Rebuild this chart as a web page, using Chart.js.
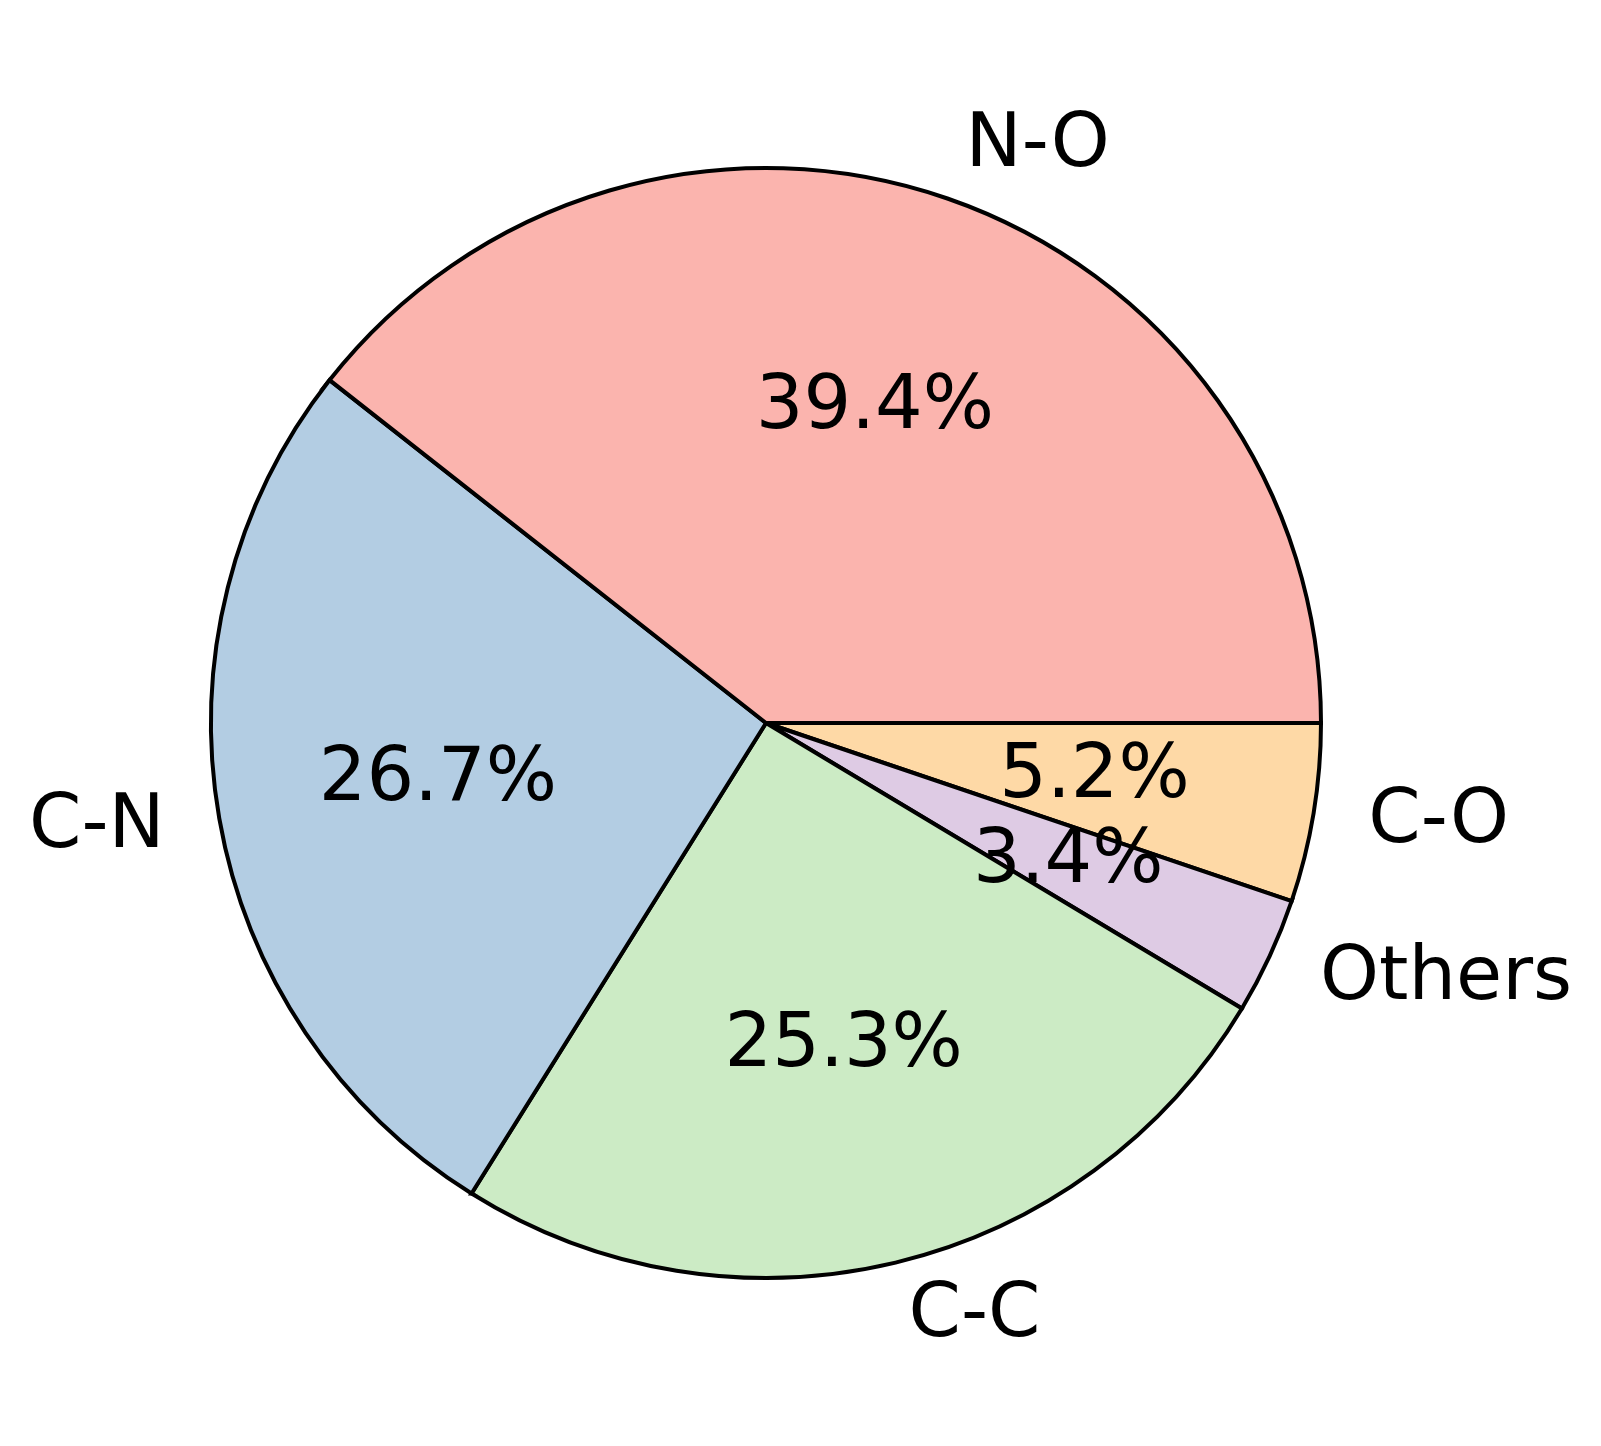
<!DOCTYPE html>
<html>
<head>
<meta charset="utf-8">
<script src="https://cdn.jsdelivr.net/npm/chart.js@4/dist/chart.umd.min.js"></script>
<style>
  html, body { margin: 0; padding: 0; background: #fff; }
  canvas { display: block; }
</style>
</head>
<body>
<canvas id="pieChart" width="1601" height="1446"></canvas>
<script>
// slices in the order they go round the pie (counter-clockwise from 3 o'clock)
const categories = ['N-O', 'C-N', 'C-C', 'Others', 'C-O'];
const shares = [39.4, 26.7, 25.3, 3.4, 5.2];
const colors = ['#fbb4ae', '#b3cde3', '#ccebc5', '#decbe4', '#fed9a6'];

// chart.js goes clockwise, so reverse everything
const labels = categories.slice().reverse();
const values = shares.slice().reverse();
const bg = colors.slice().reverse();
const total = values.reduce((a, b) => a + b, 0);

const FONT = '75px "DejaVu Sans"';

// draws the outer labels and the percent texts like matplotlib does
const pieText = {
  id: 'pieText',
  afterDatasetsDraw(chart) {
    const ctx = chart.ctx;
    const meta = chart.getDatasetMeta(0);
    ctx.save();
    ctx.font = FONT;
    ctx.fillStyle = '#000';
    meta.data.forEach((arc, i) => {
      const p = arc.getProps(['x', 'y', 'startAngle', 'endAngle', 'outerRadius'], true);
      const mid = (p.startAngle + p.endAngle) / 2;
      const cx = Math.cos(mid), cy = Math.sin(mid);

      // category label at 1.1 r
      const lx = p.x + cx * p.outerRadius * 1.1;
      const ly = p.y + cy * p.outerRadius * 1.1;
      ctx.textAlign = cx > 0 ? 'left' : 'right';
      ctx.textBaseline = 'middle';
      ctx.fillText(labels[i], lx, ly);

      // percent at 0.6 r
      const pct = (values[i] / total * 100).toFixed(1) + '%';
      ctx.textAlign = 'center';
      ctx.fillText(pct, p.x + cx * p.outerRadius * 0.6, p.y + cy * p.outerRadius * 0.6);
    });
    ctx.restore();
  }
};

const ctx = document.getElementById('pieChart').getContext('2d');
const chart = new Chart(ctx, {
  type: 'pie',
  data: {
    labels: labels,
    datasets: [{
      data: values,
      backgroundColor: bg,
      borderColor: '#000',
      borderWidth: 4,
      borderJoinStyle: 'miter',
      hoverOffset: 0
    }]
  },
  options: {
    responsive: false,
    animation: false,
    rotation: 90,
    radius: 555,
    layout: { padding: { left: 0, right: 69, top: 0, bottom: 0 } },
    plugins: {
      legend: { display: false },
      tooltip: { enabled: false }
    }
  },
  plugins: [pieText]
});
</script>
</body>
</html>
